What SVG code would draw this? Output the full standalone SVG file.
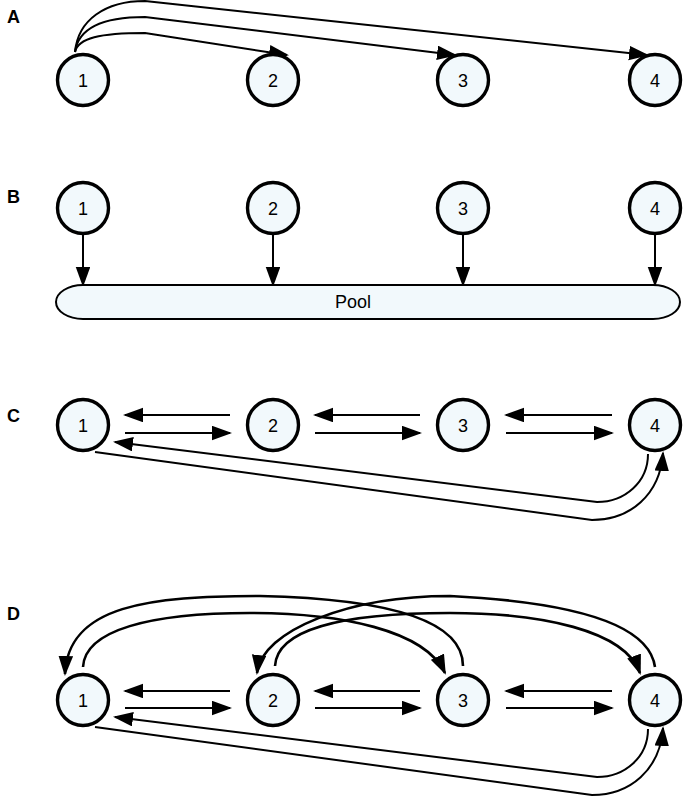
<svg xmlns="http://www.w3.org/2000/svg" width="685" height="796" viewBox="0 0 685 796">
<style>
.node{fill:#f2f9fc;stroke:#000;stroke-width:3.4}
.num{font-family:"Liberation Sans",Arial,sans-serif;font-size:18px;text-anchor:middle;fill:#000}
.lbl{font-family:"Liberation Sans",Arial,sans-serif;font-size:18px;font-weight:bold;fill:#000}
.ca{fill:none;stroke:#000;stroke-width:2;marker-end:url(#arr)}
.ct{fill:none;stroke:#000;stroke-width:2.6;marker-end:url(#arr)}
.pool{fill:#f2f9fc;stroke:#000;stroke-width:2}
</style>
<defs>
<marker id="arr" markerUnits="userSpaceOnUse" markerWidth="20" markerHeight="15" refX="18" refY="7.25" orient="auto">
<path d="M0,0 L20,7.25 L0,14.5 Z" fill="#000"/>
</marker>
</defs>

<text class="lbl" x="7" y="23">A</text>
<text class="lbl" x="7" y="203">B</text>
<text class="lbl" x="7" y="422">C</text>
<text class="lbl" x="7" y="620">D</text>

<g id="connectors">
<path class="ca" d="M75,52 C78,38 100,33 145,33 L287,55"/>
<path class="ca" d="M75,52 C78,30 100,17 145,17 L455,55"/>
<path class="ca" d="M75,52 C78,20 105,1 145,1 L647,55"/>
<path class="ca" d="M83,235 V285"/>
<path class="ca" d="M273,235 V285"/>
<path class="ca" d="M463,235 V285"/>
<path class="ca" d="M655,235 V285"/>
<path class="ca" d="M230,415 H125"/>
<path class="ca" d="M125,433 H230"/>
<path class="ca" d="M420,415 H315"/>
<path class="ca" d="M315,433 H420"/>
<path class="ca" d="M612,415 H506"/>
<path class="ca" d="M506,433 H612"/>
<path class="ca" d="M648,454 C648,482 625,502 597,502 L115,442"/>
<path class="ca" d="M95,452 L592,520 C630,520 660,495 663,453"/>
<path class="ca" d="M230,691 H125"/>
<path class="ca" d="M125,708 H230"/>
<path class="ca" d="M420,691 H315"/>
<path class="ca" d="M315,708 H420"/>
<path class="ca" d="M612,691 H506"/>
<path class="ca" d="M506,708 H612"/>
<path class="ca" d="M648,729 C648,757 625,777 597,777 L115,717"/>
<path class="ca" d="M95,727 L592,795 C630,795 660,770 663,728"/>
<path class="ct" d="M463,666 C463,640 440,600 260,596 C150,596 68,605 65,674"/>
<path class="ct" d="M83,667 C85,630 150,613 250,613 C340,613 425,630 445,673"/>
<path class="ct" d="M655,667 C652,645 630,605 450,596 C350,596 262,630 257,673"/>
<path class="ct" d="M275,666 C277,630 340,613 450,613 C540,613 625,630 640,673"/>
</g>

<g id="pool">
<path class="pool" d="M83,285 H653 A27,17 0 0 1 653,319 H83 A27,17 0 0 1 83,285 Z"/>
<text class="num" x="353" y="308">Pool</text>
</g>

<g id="A1"><circle class="node" cx="83" cy="80" r="25.5"/><text class="num" x="83" y="86.5">1</text></g>
<g id="A2"><circle class="node" cx="273" cy="80" r="25.5"/><text class="num" x="273" y="86.5">2</text></g>
<g id="A3"><circle class="node" cx="463" cy="80" r="25.5"/><text class="num" x="463" y="86.5">3</text></g>
<g id="A4"><circle class="node" cx="655" cy="80" r="25.5"/><text class="num" x="655" y="86.5">4</text></g>

<g id="B1"><circle class="node" cx="83" cy="208" r="25.5"/><text class="num" x="83" y="214.5">1</text></g>
<g id="B2"><circle class="node" cx="273" cy="208" r="25.5"/><text class="num" x="273" y="214.5">2</text></g>
<g id="B3"><circle class="node" cx="463" cy="208" r="25.5"/><text class="num" x="463" y="214.5">3</text></g>
<g id="B4"><circle class="node" cx="655" cy="208" r="25.5"/><text class="num" x="655" y="214.5">4</text></g>

<g id="C1"><circle class="node" cx="83" cy="425" r="25.5"/><text class="num" x="83" y="431.5">1</text></g>
<g id="C2"><circle class="node" cx="273" cy="425" r="25.5"/><text class="num" x="273" y="431.5">2</text></g>
<g id="C3"><circle class="node" cx="463" cy="425" r="25.5"/><text class="num" x="463" y="431.5">3</text></g>
<g id="C4"><circle class="node" cx="655" cy="425" r="25.5"/><text class="num" x="655" y="431.5">4</text></g>

<g id="D1"><circle class="node" cx="83" cy="700" r="25.5"/><text class="num" x="83" y="706.5">1</text></g>
<g id="D2"><circle class="node" cx="273" cy="700" r="25.5"/><text class="num" x="273" y="706.5">2</text></g>
<g id="D3"><circle class="node" cx="463" cy="700" r="25.5"/><text class="num" x="463" y="706.5">3</text></g>
<g id="D4"><circle class="node" cx="655" cy="700" r="25.5"/><text class="num" x="655" y="706.5">4</text></g>
</svg>
